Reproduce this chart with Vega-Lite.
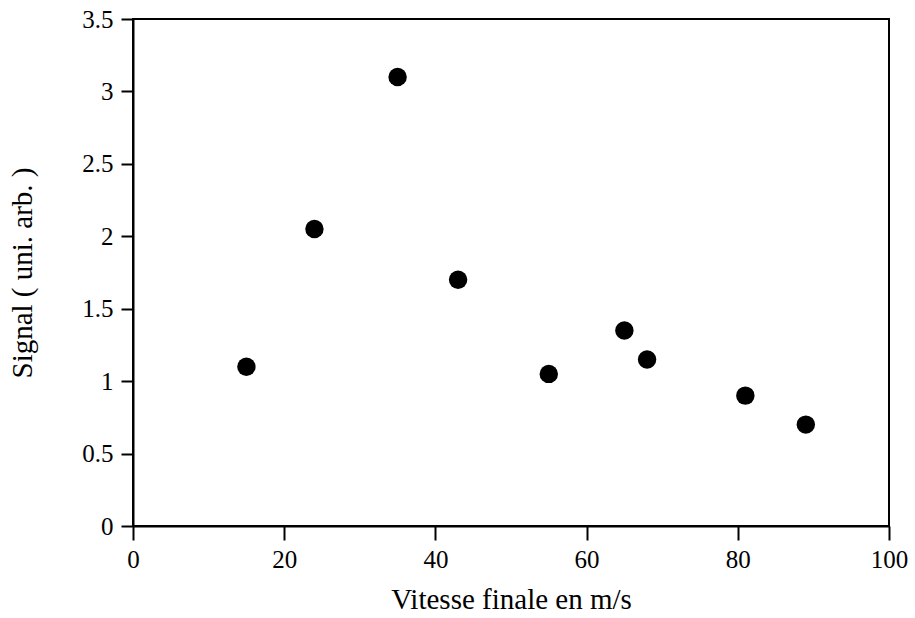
{
  "$schema": "https://vega.github.io/schema/vega-lite/v6.json",
  "width": 756,
  "height": 507,
  "autosize": {"type": "none"},
  "padding": {"left": 133, "top": 19, "right": 26, "bottom": 92},
  "background": "white",
  "config": {
    "view": {"stroke": "black", "strokeWidth": 2},
    "font": "Liberation Serif"
  },
  "data": {
    "values": [
      {"v": 15, "s": 1.1},
      {"v": 24, "s": 2.05},
      {"v": 35, "s": 3.1},
      {"v": 43, "s": 1.7},
      {"v": 55, "s": 1.05},
      {"v": 65, "s": 1.35},
      {"v": 68, "s": 1.15},
      {"v": 81, "s": 0.9},
      {"v": 89, "s": 0.7}
    ]
  },
  "mark": {"type": "circle", "color": "black", "opacity": 1, "size": 340},
  "encoding": {
    "x": {
      "field": "v",
      "type": "quantitative",
      "scale": {"domain": [0, 100], "nice": false},
      "axis": {
        "values": [0, 20, 40, 60, 80, 100], "format": "d", "labelFlush": false,
        "tickSize": 14, "tickWidth": 2, "tickColor": "black",
        "domainColor": "black", "domainWidth": 2, "grid": false,
        "labelFont": "Liberation Serif", "labelFontSize": 25, "labelColor": "black", "labelPadding": 7,
        "title": "Vitesse finale en m/s", "titleFont": "Liberation Serif", "titleFontSize": 29,
        "titleFontWeight": "normal", "titleColor": "black", "titlePadding": 13
      }
    },
    "y": {
      "field": "s",
      "type": "quantitative",
      "scale": {"domain": [0, 3.5], "nice": false},
      "axis": {
        "values": [0, 0.5, 1, 1.5, 2, 2.5, 3, 3.5], "format": "~g", "labelFlush": false,
        "tickSize": 12, "tickWidth": 2, "tickColor": "black",
        "domainColor": "black", "domainWidth": 2, "grid": false,
        "labelFont": "Liberation Serif", "labelFontSize": 25, "labelColor": "black", "labelPadding": 8,
        "title": "Signal ( uni. arb. )", "titleFont": "Liberation Serif", "titleFontSize": 29,
        "titleFontWeight": "normal", "titleColor": "black", "titlePadding": 44
      }
    }
  }
}
